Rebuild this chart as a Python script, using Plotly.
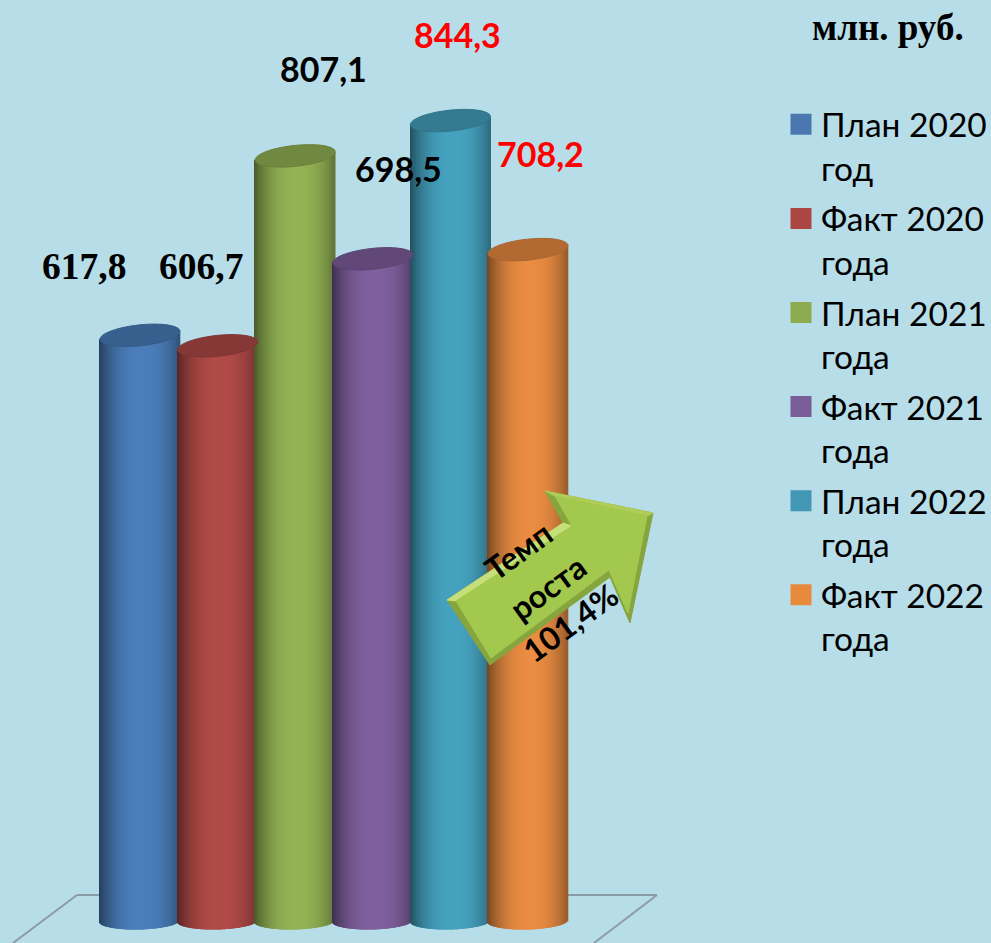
import math
import plotly.graph_objects as go

W, H = 991, 943
series_names = ["План 2020<br>год", "Факт 2020<br>года", "План 2021<br>года", "Факт 2021<br>года", "План 2022<br>года", "Факт 2022<br>года"]
series_values = [617.8, 606.7, 807.1, 698.5, 844.3, 708.2]
series_colors = ["#4A7EBB", "#B04A47", "#93B354", "#7F5F9E", "#45A2BF", "#EA8C42"]
legend_colors = ["#4A78AE", "#AC4642", "#8DAC50", "#795D99", "#4297B4", "#E78A3C"]
label_colors = ["black", "black", "black", "black", "red", "red"]
label_fonts = ["Liberation Serif", "Liberation Serif", "Lato", "Lato", "Lato", "Lato"]
label_px = [(84, 266), (201, 266), (323, 69), (398, 168), (457, 34), (540, 154)]

PX_UNIT_Y, PX_UNIT_X = 0.948, 77.6
BASE_PX, FIRST_PX = 921, 140
BAR_W = 80 / PX_UNIT_X
CAP_H, CAP_T = 10.5 / PX_UNIT_Y, 4 / PX_UNIT_Y
FOOT_H, FOOT_T = 8.5 / PX_UNIT_Y, 1 / PX_UNIT_Y
N = 80


def rgb(c, f):
    v = [int(c[i:i + 2], 16) for i in (1, 3, 5)]
    return "rgb(%d,%d,%d)" % tuple(min(255, round(x * f)) for x in v)


def px(x, y):
    return x / W, 1 - y / H


def poly(points, fill, line=None):
    d = "M" + " L".join(f"{a:.5f},{b:.5f}" for a, b in (px(*p) for p in points)) + " Z"
    return dict(type="path", path=d, xref="paper", yref="paper", fillcolor=fill,
                line=dict(color=line or fill, width=1), layer="above")


fig = go.Figure()
shapes = []
for i, (val, col) in enumerate(zip(series_values, series_colors)):
    xs, tops, bases, cols = [], [], [], []
    for k in range(N):
        t = -1 + (2 * k + 1) / N
        xs.append(i + t * BAR_W / 2)
        base = -FOOT_H * (1 - t * t) ** 0.5 + FOOT_T * t
        bases.append(base)
        tops.append(val + CAP_T * t - base)
        cols.append(rgb(col, 1.0 - 0.42 * abs(t - 0.08) ** 2.4))
    fig.add_trace(go.Bar(x=xs, y=tops, base=bases, width=[BAR_W / N * 1.6] * N,
                         marker=dict(color=cols, opacity=1, line=dict(width=0)),
                         showlegend=False, hoverinfo="skip"))
    pts = []
    M = 48
    for k in range(M):
        a = 2 * math.pi * k / M
        t = math.cos(a)
        pts.append((i + t * BAR_W / 2, val + CAP_T * t + CAP_H * math.sin(a)))
    d = "M" + " L".join(f"{a:.4f},{b:.3f}" for a, b in pts) + " Z"
    shapes.append(dict(type="path", path=d, xref="x", yref="y", fillcolor=rgb(col, 0.76),
                       line=dict(color=rgb(col, 0.72), width=1), layer="above"))

for name, col in zip(series_names, legend_colors):
    fig.add_trace(go.Scatter(x=[None], y=[None], mode="markers", name=name, legendgroup=name,
                             marker=dict(symbol="square", size=16, color=col, line=dict(color=col, width=5))))

# floor of the 3-D frame
floor = [(13, 943), (77, 895), (657, 895), (594, 943)]
for a, b in zip(floor, floor[1:]):
    (x0, y0), (x1, y1) = px(*a), px(*b)
    shapes.append(dict(type="line", xref="paper", yref="paper", x0=x0, y0=y0, x1=x1, y1=y1,
                       line=dict(color="#8C9CA6", width=2), layer="below"))

# growth arrow
outer = [(447, 600), (563, 523), (545, 491), (653, 513), (630, 623), (610, 577), (490, 665)]
inner = [(456, 601), (572, 526), (555, 496), (647, 516), (628, 613), (609, 570), (491, 658)]
shapes.append(poly(outer, "#86A53E"))
shapes.append(poly([(447, 600), (563, 523), (572, 526), (456, 601)], "#C6DF78"))
shapes.append(poly([(545, 491), (653, 513), (647, 516), (555, 496)], "#AFCD58"))
shapes.append(poly(inner, "#A3C84E"))

annotations = []
for val, (lx, ly), c, f in zip(series_values, label_px, label_colors, label_fonts):
    ax, ay = px(lx, ly)
    annotations.append(dict(x=ax, y=ay, xref="paper", yref="paper", showarrow=False,
                            xanchor="center", yanchor="middle",
                            text=f"<b>{val:.1f}</b>".replace(".", ","),
                            font=dict(family=f, size=37.5 if "Serif" in f else 34, color=c)))
ax, ay = px(888, 27)
annotations.append(dict(x=ax, y=ay, xref="paper", yref="paper", showarrow=False, text="<b>млн. руб.</b>",
                        xanchor="center", yanchor="middle",
                        font=dict(family="Liberation Serif", size=37, color="black")))
for txt, p in (("Темп", (518, 550)), ("роста", (547, 587)), ("101,4%", (570, 622))):
    ax, ay = px(*p)
    annotations.append(dict(x=ax, y=ay, xref="paper", yref="paper", showarrow=False, textangle=-36,
                            xanchor="center", yanchor="middle",
                            text=f"<b>{txt}</b>", font=dict(family="Lato", size=32, color="black")))

lx, ly = px(781, 96)
fig.update_layout(
    width=W, height=H, margin=dict(l=0, r=0, t=0, b=0, autoexpand=False),
    paper_bgcolor="#B7DDE8", plot_bgcolor="#B7DDE8",
    barmode="overlay", shapes=shapes, annotations=annotations,
    xaxis=dict(visible=False, range=[-FIRST_PX / PX_UNIT_X, (W - FIRST_PX) / PX_UNIT_X], fixedrange=True),
    yaxis=dict(visible=False, range=[-(H - BASE_PX) / PX_UNIT_Y, BASE_PX / PX_UNIT_Y], fixedrange=True),
    showlegend=True,
    legend=dict(x=lx, y=ly, xanchor="left", yanchor="top", bgcolor="rgba(0,0,0,0)", valign="top",
                font=dict(family="Lato", size=33.5, color="black"), tracegroupgap=4, itemwidth=30),
)
fig.write_html("out.html", config={"displayModeBar": False},
               post_script="document.body.style.margin='0';document.body.style.overflow='hidden';")
